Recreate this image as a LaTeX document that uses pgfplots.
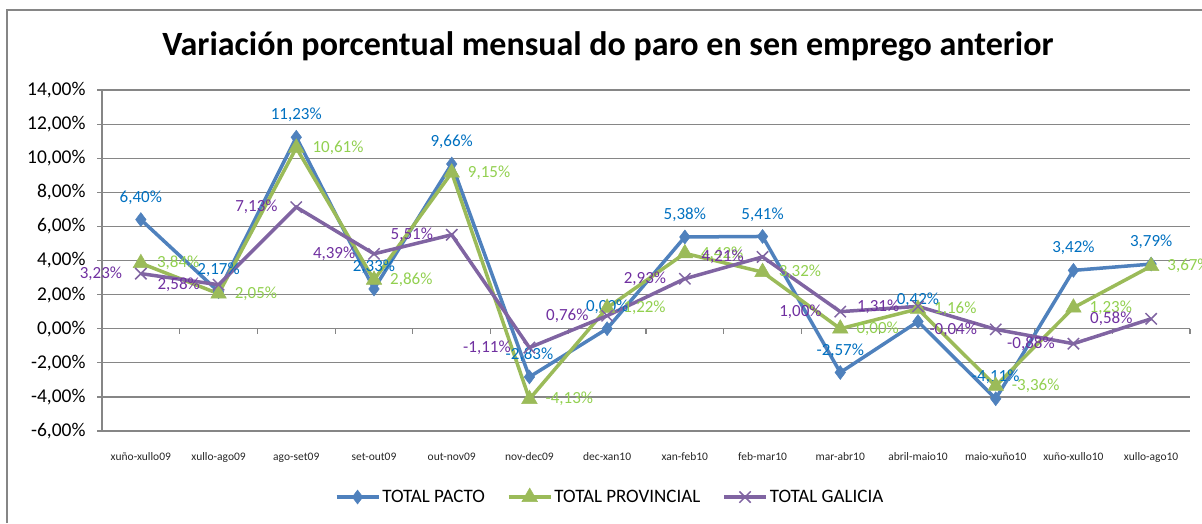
\documentclass[border=0pt]{standalone}
\usepackage{pgfplots}
\pgfplotsset{compat=1.18}
\usepackage{fontspec}
\setmainfont{Carlito}
\definecolor{pblue}{RGB}{79,129,189}
\definecolor{pgreen}{RGB}{155,187,89}
\definecolor{ppurple}{RGB}{128,100,162}
\definecolor{lblue}{RGB}{0,112,192}
\definecolor{lgreen}{RGB}{146,208,80}
\definecolor{lpurple}{RGB}{112,48,160}
\definecolor{gridgray}{RGB}{134,134,134}
\pgfplotsset{
  lbl/.style={nodes near coords={\pgfmathprintnumber[fixed,fixed zerofill,precision=2,use comma,assume math mode=true]{\pgfplotspointmeta}\%}},
}
\begin{document}
\begin{tikzpicture}
\useasboundingbox (0pt,0pt) rectangle (1202pt,523pt);
\draw[gridgray, line width=1.2pt] (7pt,0pt) -- (7pt,513pt) -- (1202pt,513pt);
\node[font=\fontsize{34}{40}\selectfont\bfseries] at (608pt,477pt) {Variación porcentual mensual do paro en sen emprego anterior};
\begin{axis}[
  at={(102pt,92pt)}, anchor=south west,
  scale only axis, width=1088pt, height=341pt,
  xmin=-0.5, xmax=13.5, ymin=-6, ymax=14,
  clip=false,
  axis x line*=bottom, axis y line*=left,
  axis line style={gridgray, line width=1.2pt},
  xtick={0,...,13},
  xticklabels={xuño-xullo09,xullo-ago09,ago-set09,set-out09,out-nov09,nov-dec09,dec-xan10,xan-feb10,feb-mar10,mar-abr10,abril-maio10,maio-xuño10,xuño-xullo10,xullo-ago10},
  x tick style={draw=none},
  xticklabel style={font=\fontsize{11.5}{13}\selectfont, yshift=-13pt, text=black!85},
  ytick={-6,-4,...,14},
  y tick style={gridgray, line width=1.2pt},
  tick align=outside, major tick length=5pt,
  yticklabel={\pgfmathprintnumber[fixed,fixed zerofill,precision=2,use comma,assume math mode=true]{\tick}\%},
  yticklabel style={font=\fontsize{19.5}{21}\selectfont, xshift=-8pt},
  ymajorgrids, major grid style={gridgray, line width=1.2pt},
  legend style={at={(0.467,-0.1935)}, anchor=center, draw=none, fill=none,
    font=\fontsize{19}{21}\selectfont, legend columns=3,
    /tikz/every even column/.append style={column sep=20pt}},
  legend image code/.code={\draw[mark repeat=2,mark phase=2] plot coordinates {(0pt,0pt) (21pt,0pt) (42pt,0pt)};},
]
\pgfplotsinvokeforeach{0.5,1.5,2.5,3.5,4.5,5.5,6.5,7.5,8.5,9.5,10.5,11.5,12.5,13.5}{
  \draw[gridgray, line width=1.2pt] (axis cs:#1,0) -- ++(0pt,-5pt);
}
\addplot[color=pblue, line width=3.5pt, mark=diamond*, mark size=7pt, mark options={solid,fill=pblue,line width=0.5pt},
  lbl, every node near coord/.append style={text=lblue, font=\fontsize{17}{19}\selectfont, anchor=south, inner sep=2pt, yshift=13pt}]
  coordinates {(0,6.40) (1,2.17) (2,11.23) (3,2.33) (4,9.66) (5,-2.83) (6,0.00) (7,5.38) (8,5.41) (9,-2.57) (10,0.42) (11,-4.11) (12,3.42) (13,3.79)};
\addlegendentry{TOTAL PACTO}
\addplot[color=pgreen, line width=3.5pt, mark=triangle*, mark size=9pt, mark options={solid,fill=pgreen,line width=0.5pt},
  lbl, every node near coord/.append style={text=lgreen, font=\fontsize{17}{19}\selectfont, anchor=west, inner sep=2pt, xshift=14pt}]
  coordinates {(0,3.84) (1,2.05) (2,10.61) (3,2.86) (4,9.15) (5,-4.13) (6,1.22) (7,4.42) (8,3.32) (9,0.00) (10,1.16) (11,-3.36) (12,1.23) (13,3.67)};
\addlegendentry{TOTAL PROVINCIAL}
\addplot[color=ppurple, line width=3.5pt, mark=x, mark size=8pt, mark options={solid,line width=1.5pt},
  lbl, every node near coord/.append style={text=lpurple, font=\fontsize{17}{19}\selectfont, anchor=east, inner sep=2pt, xshift=-16pt}]
  coordinates {(0,3.23) (1,2.58) (2,7.13) (3,4.39) (4,5.51) (5,-1.11) (6,0.76) (7,2.93) (8,4.21) (9,1.00) (10,1.31) (11,-0.04) (12,-0.88) (13,0.58)};
\addlegendentry{TOTAL GALICIA}
\end{axis}
\end{tikzpicture}
\end{document}
